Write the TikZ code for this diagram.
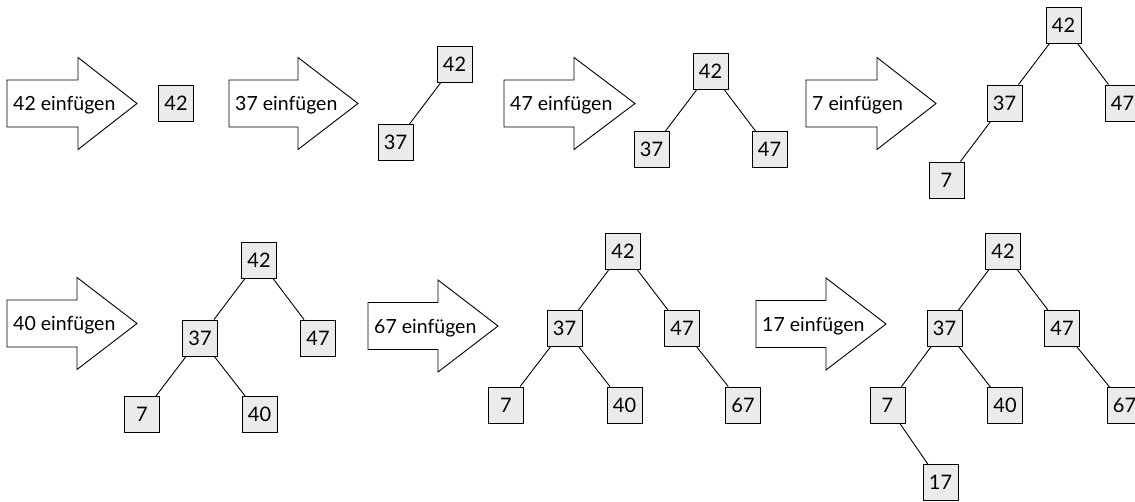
\documentclass[tikz,border=0pt]{standalone}
\usepackage{fontspec}
\setmainfont{Lato}
\definecolor{boxgray}{HTML}{EBEBEB}
\tikzset{
  key/.style={draw=black, line width=0.9pt, fill=boxgray, minimum width=35pt,
    minimum height=36pt, inner sep=0pt, font=\fontsize{20}{22}\selectfont},
  edge/.style={draw=black, line width=0.9pt},
  bigarrow/.style={draw=black, line width=0.9pt, fill=white, line join=miter},
  arrowtext/.style={anchor=base west, inner sep=0pt, font=\fontsize{19.5}{21}\selectfont}
}
% name, left x, head base x, tip x, centre y, text
\newcommand\insArrow[6]{%
  \draw[bigarrow] (#2,#5-23.5) -- (#3,#5-23.5) -- (#3,#5-46) -- (#4,#5)
    -- (#3,#5+46) -- (#3,#5+23.5) -- (#2,#5+23.5) -- cycle;
  \node[arrowtext] (#1) at (#2+6,#5+7.5) {#6};}
\begin{document}
\begin{tikzpicture}[x=1pt,y=-1pt]
\useasboundingbox (0,0) rectangle (1135,502);
\clip (0,0) rectangle (1135,502);
% ---------- row 1 ----------
\insArrow{a1}{7}{78}{137}{103.5}{42 einfügen}
\node[key] (t1a) at (176,103) {42};

\insArrow{a2}{229}{298}{358}{103.5}{37 einfügen}
\node[key] (t2a) at (454.5,64.5) {42};
\node[key] (t2b) at (395.5,142.5) {37};
\draw[edge] (t2a) -- (t2b);

\insArrow{a3}{504}{574}{635}{103.5}{47 einfügen}
\node[key] (t3a) at (710.5,71.5) {42};
\node[key] (t3b) at (651.5,149.5) {37};
\node[key] (t3c) at (769.5,149.5) {47};
\draw[edge] (t3a) -- (t3b);
\draw[edge] (t3a) -- (t3c);

\insArrow{a4}{806}{877}{936}{103.5}{7 einfügen}
\node[key] (t4a) at (1063.5,25) {42};
\node[key] (t4b) at (1004.5,103) {37};
\node[key] (t4c) at (1122.5,103) {47};
\node[key] (t4d) at (946.5,180) {7};
\draw[edge] (t4a) -- (t4b);
\draw[edge] (t4a) -- (t4c);
\draw[edge] (t4b) -- (t4d);
% ---------- row 2 ----------
\insArrow{a5}{7}{77}{137}{323.5}{40 einfügen}
\node[key] (t5a) at (259,260) {42};
\node[key] (t5b) at (200,338) {37};
\node[key] (t5c) at (318,338) {47};
\node[key] (t5d) at (142,414.5) {7};
\node[key] (t5e) at (259.5,414.5) {40};
\draw[edge] (t5a) -- (t5b);
\draw[edge] (t5a) -- (t5c);
\draw[edge] (t5b) -- (t5d);
\draw[edge] (t5b) -- (t5e);

\insArrow{a6}{368}{438}{498}{326}{67 einfügen}
\node[key] (t6a) at (623,251) {42};
\node[key] (t6b) at (564.5,328.5) {37};
\node[key] (t6c) at (682,328.5) {47};
\node[key] (t6d) at (506,405) {7};
\node[key] (t6e) at (624.5,405) {40};
\node[key] (t6f) at (743,405) {67};
\draw[edge] (t6a) -- (t6b);
\draw[edge] (t6a) -- (t6c);
\draw[edge] (t6b) -- (t6d);
\draw[edge] (t6b) -- (t6e);
\draw[edge] (t6c) -- (t6f);

\insArrow{a7}{756}{826}{886}{324}{17 einfügen}
\node[key] (t7a) at (1003,251) {42};
\node[key] (t7b) at (944.5,328.5) {37};
\node[key] (t7c) at (1062,328.5) {47};
\node[key] (t7d) at (887.5,405.5) {7};
\node[key] (t7e) at (1005,405.5) {40};
\node[key] (t7f) at (1124.5,405.5) {67};
\node[key] (t7g) at (940.5,482.5) {17};
\draw[edge] (t7a) -- (t7b);
\draw[edge] (t7a) -- (t7c);
\draw[edge] (t7b) -- (t7d);
\draw[edge] (t7b) -- (t7e);
\draw[edge] (t7c) -- (t7f);
\draw[edge] (t7d) -- (t7g);
\end{tikzpicture}
\end{document}
